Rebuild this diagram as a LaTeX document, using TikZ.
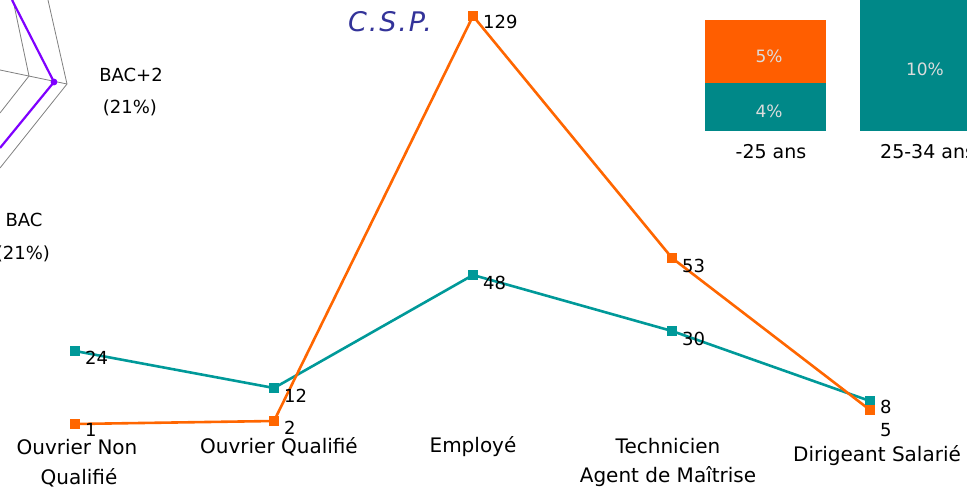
\documentclass[tikz,border=0pt]{standalone}
\usepackage{fontspec}
\setmainfont{DejaVu Sans}
\newfontfamily\titlefont{DejaVu Sans}[LetterSpace=7]
\definecolor{tealL}{RGB}{0,153,153}
\definecolor{tealB}{RGB}{0,136,136}
\definecolor{orangeL}{RGB}{255,102,0}
\definecolor{orangeB}{RGB}{255,94,0}
\definecolor{purp}{RGB}{127,0,255}
\definecolor{titleblue}{RGB}{51,51,153}
\definecolor{bartext}{RGB}{220,220,220}
\tikzset{
  lbl/.style={font=\fontsize{18}{20}\selectfont, inner sep=0pt, align=center},
  cat/.style={font=\fontsize{20}{22}\selectfont, inner sep=0pt, align=center},
  val/.style={font=\fontsize{18}{20}\selectfont, inner sep=0pt, anchor=west},
  tmark/.style={fill=tealL, minimum size=10pt, inner sep=0pt},
  omark/.style={fill=orangeL, minimum size=10pt, inner sep=0pt},
  tline/.style={draw=tealL, line width=2.6pt},
  oline/.style={draw=orangeL, line width=2.6pt},
  grid/.style={draw=gray, line width=0.8pt},
  bartxt/.style={text=bartext, font=\fontsize{17}{19}\selectfont, inner sep=0pt},
}
\begin{document}
\begin{tikzpicture}[x=1pt,y=-1pt]
\useasboundingbox (0,0) rectangle (967,492);
\clip (0,0) rectangle (967,492);
% radar fragment
\draw[grid] (48,0) -- (67,84) -- (0,168);
\draw[grid] (13,0) -- (29,76) -- (0,113);
\draw[grid] (0,70) -- (67,84);
\draw[purp, line width=2.2pt] (12,0) -- (54,82) -- (0,148);
\fill[purp] (54,82) circle (3.4pt);
\node[lbl] (bac2) at (131,75) {BAC+2};
\node[lbl] (bac2p) at (130,108) {(21\%)};
\node[lbl] (bac) at (24,220) {BAC};
\node[lbl] (bacp) at (23,254) {(21\%)};
% title
\node[font=\fontsize{27}{29}\selectfont\titlefont\itshape, text=titleblue, inner sep=0pt] (title) at (390,22) {C.S.P.};
% bars
\fill[orangeB] (705,20) rectangle (826,83);
\fill[tealB] (705,83) rectangle (826,131);
\fill[tealB] (860,-5) rectangle (975,131);
\node[bartxt] (b5) at (769,56) {5\%};
\node[bartxt] (b4) at (769,111) {4\%};
\node[bartxt] (b10) at (925,69) {10\%};
\node[font=\fontsize{19}{21}\selectfont, inner sep=0pt] (age1) at (771,152) {-25 ans};
\node[font=\fontsize{19}{21}\selectfont, inner sep=0pt, anchor=west] (age2) at (880,152) {25-34 ans};
% line chart markers
\node[tmark] (t1) at (75,351) {};
\node[tmark] (t2) at (274,388) {};
\node[tmark] (t3) at (473,275) {};
\node[tmark] (t4) at (672,331) {};
\node[tmark] (t5) at (870,401) {};
\node[omark] (o1) at (75,424) {};
\node[omark] (o2) at (274,421) {};
\node[omark] (o3) at (473,16) {};
\node[omark] (o4) at (672,258) {};
\node[omark] (o5) at (870,410) {};
\draw[tline] (t1.center) -- (t2.center) -- (t3.center) -- (t4.center) -- (t5.center);
\draw[oline] (o1.center) -- (o2.center) -- (o3.center) -- (o4.center) -- (o5.center);
\foreach \n in {t1,t2,t3,t4,t5} \node[tmark] at (\n) {};
\foreach \n in {o1,o2,o3,o4,o5} \node[omark] at (\n) {};
% values
\node[val] (v1) at (85,358) {24};
\node[val] (v2) at (284,396) {12};
\node[val] (v3) at (483,283) {48};
\node[val] (v4) at (682,339) {30};
\node[val] (v5) at (880,407) {8};
\node[val] (w1) at (85,430) {1};
\node[val] (w2) at (284,428) {2};
\node[val] (w3) at (483,22) {129};
\node[val] (w4) at (682,266) {53};
\node[val] (w5) at (880,430) {5};
% categories
\node[cat] (c1a) at (77,447) {Ouvrier Non};
\node[cat] (c1b) at (79,478) {Qualifié};
\node[cat] (c2) at (279,447) {Ouvrier Qualifié};
\node[cat] (c3) at (473,447) {Employé};
\node[cat] (c4a) at (668,446) {Technicien};
\node[cat] (c4b) at (668,477) {Agent de Maîtrise};
\node[cat] (c5) at (877,456) {Dirigeant Salarié};
\end{tikzpicture}
\end{document}
